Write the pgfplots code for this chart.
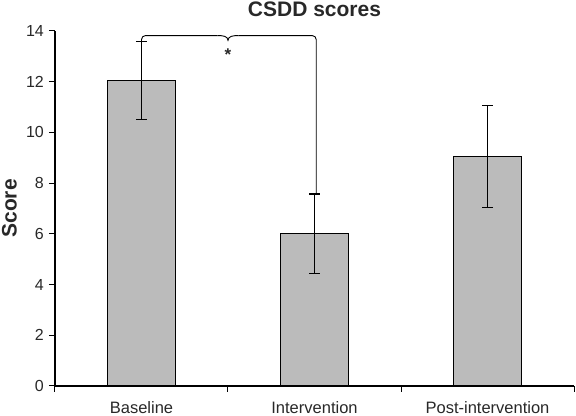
\documentclass[border=0pt]{standalone}
\usepackage{pgfplots}
\pgfplotsset{compat=1.18}
\usepackage{fontspec}
\setmainfont{Liberation Sans}
\usetikzlibrary{calc}
\definecolor{barfill}{RGB}{187,187,187}
\definecolor{txt}{RGB}{40,40,40}
\begin{document}
\begin{tikzpicture}
\begin{axis}[
  name=ax,
  scale only axis,
  width=519pt, height=355pt,
  xmin=-0.5, xmax=2.5,
  ymin=0, ymax=14,
  axis lines=left,
  axis line style={-, line width=2.2pt, black},
  /pgf/number format/assume math mode=true,
  ytick={0,2,...,14},
  xtick={-0.5,0.5,1.5,2.5},
  xticklabels={},
  extra x ticks={0,1,2},
  extra x tick labels={Baseline,Intervention,Post-intervention},
  extra x tick style={major tick length=0pt, tick style={draw=none}},
  tick align=outside,
  major tick length=6pt,
  tick style={line width=1pt, black},
  yticklabel style={font=\fontsize{16}{18}\selectfont, text=txt, inner sep=0pt, anchor=east, xshift=-5pt},
  xticklabel style={font=\fontsize{16.5}{18}\selectfont, text=txt, yshift=-12pt},
  title={CSDD scores},
  title style={font=\fontsize{21}{24}\selectfont\bfseries, text=txt, at={(axis description cs:0.5,1)}, anchor=base, yshift=8pt},
  ylabel={Score},
  ylabel style={font=\fontsize{21}{24}\selectfont\bfseries, text=txt, inner sep=0pt, at={(axis description cs:0,0.5)}, anchor=south, yshift=38pt},
  ybar,
  bar width=0.39,
  clip=false,
]
\addplot[ybar, bar width=0.39, fill=barfill, draw=black, line width=1.2pt,
  error bars/.cd, y dir=both, y explicit,
  error bar style={line width=1.1pt, black},
  error mark options={rotate=90, mark size=5.5pt, line width=1.1pt, black}]
  coordinates {(0,12.05) +- (0,1.55) (1,6.0) +- (0,1.57) (2,9.05) +- (0,2.0)};
\draw[line width=0.9pt, black, rounded corners=4pt]
  (axis cs:0,13.55) -- (axis cs:0,13.82) -- (axis cs:0.44,13.82);
\draw[line width=0.9pt, black]
  (axis cs:0.44,13.82) to[out=0,in=90] (axis cs:0.5,13.63) to[out=90,in=180] (axis cs:0.56,13.82);
\draw[line width=0.9pt, black, rounded corners=4pt]
  (axis cs:0.56,13.82) -- (axis cs:1.01,13.82) -- (axis cs:1.01,7.57);
\node[font=\fontsize{17}{18}\selectfont\bfseries, text=txt] at (axis cs:0.5,13.05) {*};
\end{axis}
\pgfresetboundingbox
\path ($(ax.south west)+(-55pt,-30pt)$) rectangle ($(ax.north east)+(2pt,31pt)$);
\end{tikzpicture}
\end{document}
